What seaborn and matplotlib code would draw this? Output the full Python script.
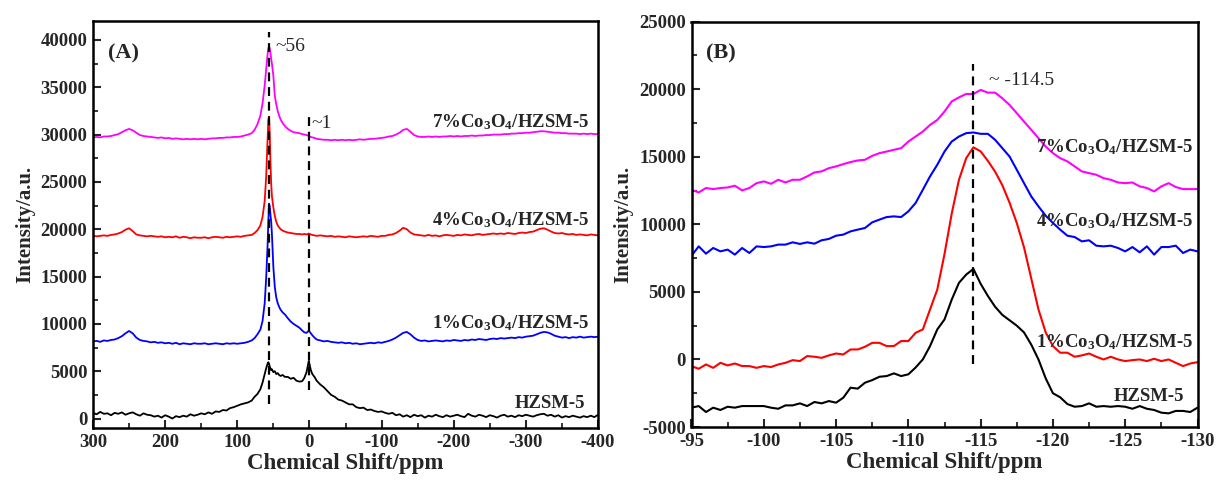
import numpy as np
import pandas as pd
import matplotlib
matplotlib.use("Agg")
import matplotlib.pyplot as plt
from matplotlib.ticker import MultipleLocator
import seaborn as sns

# ---------------- 29Si/27Al MAS NMR spectra ----------------
# Panel A: wide chemical-shift window (ppm)
XA_LEFT = list(range(300, 75, -5))
XA_PEAK = [76, 72, 68, 65, 62, 60, 58, 57, 56, 55, 54, 53, 52, 50, 48, 46, 44, 42, 40, 37,
           34, 30, 26, 22, 18, 14, 10, 7, 4, 2, 1, 0, -2, -4, -7, -10]
XA_RIGHT = list(range(-15, -405, -5))
XA = XA_LEFT + XA_PEAK + XA_RIGHT

HZSM_A = (
    [600, 450, 700, 500, 550, 350, 600, 500, 650, 400,
     550, 650, 450, 300, 550, 400, 350, 200, 300, 100,
     350, 200, 0, 250, 150, 300, 200, 450, 300, 400,
     550, 450, 650, 500, 750, 700, 900, 850, 1100, 1200,
     1350, 1500, 1600, 1700, 1900]
    + [2300, 2600, 3100, 3800, 4700, 5300, 5800, 5950, 5800, 5500,
       5300, 5100, 5200, 4900, 5000, 4700, 4800, 4600, 4500, 4600,
       4400, 4400, 4200, 4300, 4000, 3900, 3950, 4300, 4900, 5700,
       6050, 5800, 5100, 4700, 4400, 4000]
    + [3600, 3300, 2900, 2500, 2300, 2000, 1900, 1700, 1500, 1500,
       1200, 1100, 1150, 900, 950, 800, 700, 750, 600, 500,
       600, 350, 450, 200, 350, 150, 400, 250, 350, 100,
       300, 200, 400, 250, 150, 350, 200, 300, 400, 250,
       150, 500, 300, 200, 400, 300, 150, 350, 250, 100,
       300, 400, 200, 300, 150, 350, 250, 400, 300, 200,
       350, 450, 500, 300, 400, 200, 350, 100, 250, 150,
       300, 200, 100, 250, 150, 300, 150, 400]
)

CO1_A = (
    [8150, 8200, 8100, 8250, 8200, 8300, 8350, 8500, 8700, 9000,
     9250, 9000, 8550, 8300, 8200, 8150, 8050, 8100, 8000, 8050,
     7950, 8000, 7900, 8000, 7850, 7950, 7900, 7850, 7950, 7900,
     7900, 7950, 7850, 7900, 7950, 7900, 7850, 7950, 7900, 7950,
     7900, 7950, 8000, 8100, 8250]
    + [8500, 8900, 9400, 10300, 12200, 14800, 18300, 20800, 22700, 22400,
       21500, 20800, 19500, 16000, 13900, 12800, 12200, 11800, 11500, 11200,
       11000, 10600, 10250, 10000, 9800, 9600, 9300, 9100, 9050, 9200,
       9250, 9200, 9000, 8800, 8550, 8350]
    + [8250, 8150, 8200, 8100, 8050, 8000, 8050, 7950, 8000, 7900,
       7950, 7850, 7900, 7950, 8000, 7950, 8050, 8000, 8100, 8200,
       8350, 8550, 8800, 9050, 9150, 8900, 8550, 8300, 8200, 8250,
       8150, 8200, 8250, 8200, 8150, 8250, 8200, 8300, 8250, 8200,
       8300, 8250, 8350, 8300, 8400, 8350, 8300, 8400, 8450, 8400,
       8500, 8450, 8500, 8550, 8500, 8600, 8550, 8650, 8700, 8750,
       8900, 9050, 9150, 9100, 8950, 8750, 8650, 8550, 8600, 8500,
       8600, 8550, 8650, 8550, 8600, 8650, 8600, 8650]
)

CO4_A = (
    [19300, 19250, 19300, 19350, 19300, 19400, 19450, 19550, 19700, 19950,
     20100, 19800, 19450, 19350, 19300, 19250, 19300, 19250, 19200, 19250,
     19150, 19200, 19150, 19250, 19100, 19200, 19150, 19050, 19150, 19100,
     19100, 19150, 19050, 19150, 19200, 19150, 19100, 19200, 19150, 19200,
     19250, 19200, 19300, 19350, 19400]
    + [19600, 19900, 20400, 21300, 23000, 25500, 29500, 31500, 31900, 30000,
       27000, 24800, 23500, 22300, 21400, 20800, 20400, 20200, 20000, 19850,
       19750, 19650, 19600, 19550, 19500, 19500, 19450, 19500, 19450, 19500,
       19550, 19500, 19450, 19400, 19350, 19300]
    + [19350, 19300, 19250, 19300, 19200, 19250, 19200, 19150, 19250, 19200,
       19150, 19200, 19250, 19200, 19300, 19250, 19200, 19300, 19300, 19400,
       19450, 19600, 19850, 20150, 20000, 19650, 19450, 19400, 19350, 19300,
       19400, 19300, 19350, 19250, 19350, 19400, 19350, 19300, 19400, 19350,
       19450, 19400, 19350, 19450, 19500, 19400, 19450, 19500, 19550, 19500,
       19550, 19500, 19600, 19550, 19500, 19600, 19650, 19600, 19700, 19750,
       19900, 20050, 20100, 19950, 19750, 19600, 19550, 19600, 19500, 19450,
       19500, 19400, 19450, 19400, 19350, 19450, 19400, 19350]
)

CO7_A = (
    [29700, 29750, 29700, 29800, 29800, 29850, 29950, 30050, 30250, 30450,
     30600, 30450, 30200, 29950, 29850, 29800, 29750, 29700, 29650, 29700,
     29600, 29650, 29550, 29600, 29550, 29500, 29550, 29500, 29550, 29500,
     29550, 29500, 29550, 29600, 29600, 29650, 29650, 29700, 29700, 29750,
     29750, 29800, 29900, 30000, 30150]
    + [30500, 31100, 32000, 33300, 35200, 36900, 38500, 39100, 39300, 39100,
       38600, 38000, 37500, 36200, 34100, 33200, 32500, 32000, 31600, 31200,
       30900, 30600, 30400, 30250, 30200, 30150, 30050, 30000, 29950, 29900,
       29850, 29800, 29750, 29700, 29650, 29550]
    + [29500, 29450, 29450, 29400, 29450, 29400, 29450, 29400, 29450, 29400,
       29450, 29500, 29450, 29500, 29550, 29550, 29600, 29650, 29700, 29800,
       29850, 30000, 30200, 30500, 30600, 30300, 29950, 29800, 29750, 29750,
       29800, 29750, 29800, 29750, 29800, 29800, 29850, 29800, 29850, 29800,
       29850, 29850, 29900, 29850, 29900, 29900, 29950, 29950, 30000, 30000,
       30000, 30050, 30050, 30100, 30100, 30150, 30150, 30200, 30200, 30250,
       30300, 30350, 30350, 30300, 30250, 30200, 30200, 30150, 30150, 30100,
       30100, 30100, 30050, 30100, 30050, 30100, 30050, 30050]
)

# Panel B: zoom on the Q4 silicon region (ppm)
XB = np.linspace(-95, -130, 71)

CO7_B = [12560, 12360, 12690, 12610, 12690, 12730, 12860, 12510, 12690, 13050,
         13180, 13000, 13300, 13100, 13300, 13300, 13550, 13840, 13920, 14160,
         14290, 14460, 14610, 14730, 14780, 15070, 15270, 15390, 15520, 15640,
         16130, 16500, 16870, 17360, 17730, 18350, 19100, 19400, 19650, 19650,
         19950, 19750, 19750, 19330, 18840, 18230, 17610, 17000, 16380, 15760,
         15270, 14900, 14660, 14290, 13920, 13790, 13670, 13420, 13300, 13100,
         13050, 13100, 12810, 12690, 12440, 12810, 13050, 12760, 12610, 12610,
         12610]

CO4_B = [7680, 8370, 7830, 8250, 8000, 8130, 7760, 8250, 7880, 8370,
         8320, 8370, 8500, 8500, 8670, 8550, 8670, 8570, 8820, 8920,
         9160, 9240, 9480, 9610, 9730, 10150, 10350, 10540, 10590, 10540,
         10960, 11580, 12560, 13550, 14410, 15390, 16130, 16500, 16750, 16800,
         16700, 16700, 16260, 15640, 15020, 14040, 13050, 12070, 11330, 10640,
         10100, 9610, 9160, 9060, 8740, 8820, 8420, 8370, 8420, 8250,
         8000, 8320, 7930, 8370, 7760, 8320, 8320, 8420, 7880, 8130,
         8000]

CO1_B = [-500, -690, -370, -620, -250, -440, -300, -490, -490, -620,
         -490, -560, -370, -250, -50, -120, 250, 200, 120, 300,
         440, 370, 740, 740, 940, 1230, 1230, 990, 990, 1360,
         1360, 1970, 2220, 3700, 5170, 7800, 10800, 13300, 14900, 15700,
         15400, 14700, 13900, 12900, 11600, 10100, 8300, 6000, 3700, 2000,
         990, 500, 500, 200, 300, 440, 200, 0, 200, 0,
         -120, -50, 0, -120, 50, -120, 0, -250, -490, -300,
         -200]

HZSM_B = [-3570, -3450, -3890, -3570, -3740, -3500, -3570, -3450, -3450, -3450,
          -3450, -3570, -3650, -3400, -3400, -3250, -3450, -3150, -3250, -3080,
          -3200, -2830, -2090, -2160, -1720, -1530, -1280, -1230, -1030, -1230,
          -1100, -600, 0, 990, 2220, 2960, 4430, 5670, 6280, 6700,
          5600, 4700, 3900, 3300, 2900, 2500, 2000, 1100, 0, -1400,
          -2500, -2800, -3300, -3500, -3450, -3250, -3500, -3450, -3500, -3450,
          -3500, -3650, -3450, -3650, -3740, -3940, -3990, -3810, -3810, -3890,
          -3570]

LABELS = ["HZSM-5", "1%Co$_\\mathbf{3}$O$_\\mathbf{4}$/HZSM-5",
          "4%Co$_\\mathbf{3}$O$_\\mathbf{4}$/HZSM-5", "7%Co$_\\mathbf{3}$O$_\\mathbf{4}$/HZSM-5"]
COLORS_A = ["#000000", "#0000FF", "#FF0000", "#FF00FF"]
COLORS_B = ["#000000", "#FF0000", "#0000FF", "#FF00FF"]

# reference shift markers
MARK_A = [56, 1]
MARK_A_SPAN = [(1500, 40800), (3000, 32000)]
MARK_B = -114.5
MARK_B_SPAN = (-300, 21900)

# ---------------- styling ----------------
sns.set_style("ticks")
plt.rcParams.update({
    "font.family": ["Liberation Serif", "DejaVu Serif"],
    "mathtext.fontset": "custom",
    "mathtext.rm": "Liberation Serif:bold",
    "mathtext.bf": "Liberation Serif:bold",
    "mathtext.it": "Liberation Serif:bold",
    "axes.linewidth": 1.8,
    "axes.edgecolor": "black",
    "axes.unicode_minus": False,
})

fig = plt.figure(figsize=(12.16, 4.84), dpi=100)
W, H = 1216, 484
axA = fig.add_axes([93 / W, (H - 428) / H, (598 - 93) / W, (428 - 21) / H])
axB = fig.add_axes([691.5 / W, (H - 427) / H, (1197.5 - 691.5) / W, (427 - 21.7) / H])

dfA = pd.DataFrame({"shift": XA, "HZSM": HZSM_A, "Co1": CO1_A, "Co4": CO4_A, "Co7": CO7_A})
dfB = pd.DataFrame({"shift": XB, "HZSM": HZSM_B, "Co1": CO1_B, "Co4": CO4_B, "Co7": CO7_B})

for key, col in zip(["HZSM", "Co1", "Co4", "Co7"], COLORS_A):
    sns.lineplot(data=dfA, x="shift", y=key, ax=axA, color=col, lw=1.3,
                 estimator=None, sort=False)
for key, col in zip(["HZSM", "Co1", "Co4", "Co7"], COLORS_B):
    sns.lineplot(data=dfB, x="shift", y=key, ax=axB, color=col, lw=1.5,
                 estimator=None, sort=False)

dash = dict(color="black", lw=1.6, linestyle=(0, (4, 2.6)))
for xm, (y0, y1) in zip(MARK_A, MARK_A_SPAN):
    axA.plot([xm, xm], [y0, y1], **dash)
axB.plot([MARK_B, MARK_B], list(MARK_B_SPAN), **dash)

# axes ranges and ticks
axA.set_xlim(300, -400)
axA.set_ylim(-1000, 42000)
axA.xaxis.set_major_locator(MultipleLocator(100))
axA.xaxis.set_minor_locator(MultipleLocator(50))
axA.yaxis.set_major_locator(MultipleLocator(5000))
axA.yaxis.set_minor_locator(MultipleLocator(2500))

axB.set_xlim(-95, -130)
axB.set_ylim(-5000, 25000)
axB.xaxis.set_major_locator(MultipleLocator(5))
axB.xaxis.set_minor_locator(MultipleLocator(2.5))
axB.yaxis.set_major_locator(MultipleLocator(5000))
axB.yaxis.set_minor_locator(MultipleLocator(2500))

for ax in (axA, axB):
    ax.tick_params(which="major", direction="in", length=6, width=1.5,
                   labelsize=13.5, pad=4, top=False, right=False)
    ax.tick_params(which="minor", direction="in", length=3.5, width=1.3,
                   top=False, right=False)
    for lab in ax.get_xticklabels() + ax.get_yticklabels():
        lab.set_fontweight("bold")
    ax.set_xlabel("Chemical Shift/ppm", fontsize=16.5, fontweight="bold", labelpad=2)
    ax.set_ylabel("Intensity/a.u.", fontsize=15, fontweight="bold", labelpad=4)
    for s in ax.spines.values():
        s.set_linewidth(1.8)

# series labels
LAB_POS_A = [(-382, 1160), (-388, 9510), (-388, 20390), (-388, 30740)]
LAB_POS_B = [(-129.1, -3070), (-129.7, 885), (-129.7, 9870), (-129.7, 15370)]
for lab, (x, y) in zip(LABELS, LAB_POS_A):
    axA.text(x, y, lab, ha="right", va="baseline", fontsize=13.5, fontweight="bold")
for lab, (x, y) in zip(LABELS, LAB_POS_B):
    axB.text(x, y, lab, ha="right", va="baseline", fontsize=13.5, fontweight="bold")

axA.text(279.6, 38600, "(A)", ha="left", va="center", fontsize=16, fontweight="bold")
axB.text(-96.0, 22680, "(B)", ha="left", va="center", fontsize=16, fontweight="bold")
axA.text(47.7, 39260, "~56", ha="left", va="center", fontsize=14)
axA.text(-3, 31200, "~1", ha="left", va="center", fontsize=14)
axB.text(-115.6, 20680, "~ -114.5", ha="left", va="center", fontsize=14)

fig.savefig("out.png", dpi=100)
